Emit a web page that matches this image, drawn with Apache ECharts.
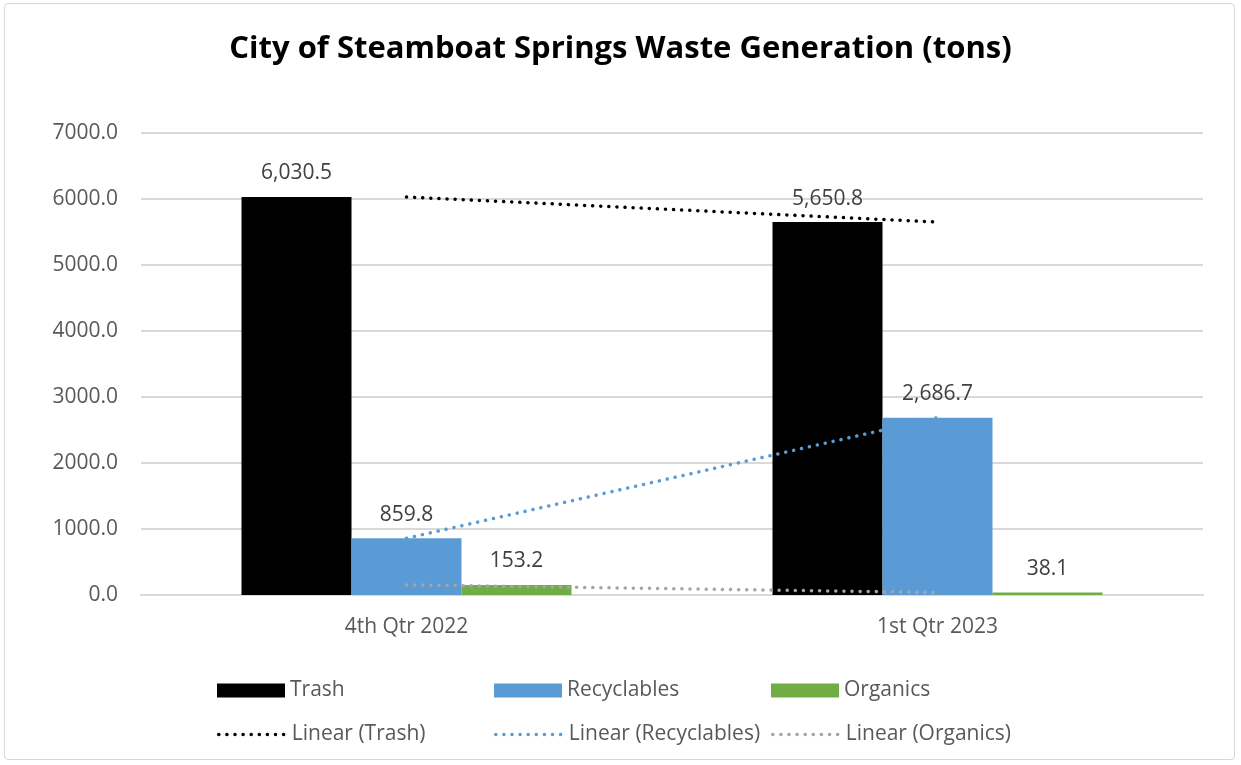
<!DOCTYPE html>
<html>
<head>
<meta charset="utf-8">
<script src="https://cdn.jsdelivr.net/npm/echarts@6/dist/echarts.min.js"></script>
<style>
  html, body { margin: 0; padding: 0; background: #fff; }
  #frame { position: absolute; left: 4px; top: 3px; width: 1231px; height: 757px;
           border: 1px solid #d9d9d9; border-radius: 4px; box-sizing: border-box; }
  #chart { width: 1241px; height: 765px; }
</style>
</head>
<body>
<div id="frame"></div>
<div id="chart"></div>
<script>
// values
const categories = ['4th Qtr 2022', '1st Qtr 2023'];
const trash = [6030.5, 5650.8];
const recyclables = [859.8, 2686.7];
const organics = [153.2, 38.1];
const yTicks = [0, 1000, 2000, 3000, 4000, 5000, 6000, 7000];

const font = '"Open Sans", "Liberation Sans", sans-serif';
const grey = '#595959';
const dots = [0.1, 8];

const chart = echarts.init(document.getElementById('chart'), null, { renderer: 'canvas' });

function fmt(v) {
    return v.toLocaleString('en-US', { minimumFractionDigits: 1, maximumFractionDigits: 1 });
}

function barSeries(name, data, color) {
    return {
        name: name,
        type: 'bar',
        data: data,
        barWidth: 110,
        barGap: '0%',
        itemStyle: { color: color },
        label: {
            show: true,
            position: 'top',
            distance: 13,
            color: '#404040',
            fontSize: 21,
            fontFamily: font,
            formatter: p => fmt(p.value)
        }
    };
}

function trendSeries(name, data, color) {
    return {
        name: name,
        type: 'line',
        data: data,
        symbol: 'none',
        z: 5,
        lineStyle: { color: color, width: 3.5, type: dots, cap: 'round' },
        // keep legend marker invisible so only the dotted line shows
        itemStyle: { color: 'rgba(0,0,0,0)', borderWidth: 0 }
    };
}

// one legend per slot so the columns line up like the original
const legendCols = [217, 494, 771];
const legendRows = [680, 724];
const legendNames = [
    ['Trash', 'Recyclables', 'Organics'],
    ['Linear (Trash)', 'Linear (Recyclables)', 'Linear (Organics)']
];
const legends = [];
legendNames.forEach((row, r) => {
    row.forEach((n, c) => {
        legends.push({
            data: [r === 0 ? { name: n, icon: 'rect' } : n],
            left: legendCols[c],
            top: legendRows[r],
            padding: 0,
            itemWidth: 68,
            itemHeight: 14,
            itemGap: 0,
            selectedMode: false,
            lineStyle: { width: 3.5, type: dots, cap: 'round' },
            textStyle: { color: grey, fontSize: 21, fontFamily: font, padding: [0, 0, 0, 0] }
        });
    });
});

chart.setOption({
    animation: false,
    title: {
        text: 'City of Steamboat Springs Waste Generation (tons)',
        left: 'center',
        top: 29,
        textStyle: { color: '#000', fontSize: 31, fontWeight: 'bold', fontFamily: font }
    },
    legend: legends,
    grid: { left: 141, right: 38, top: 133, bottom: 170 },
    xAxis: {
        type: 'category',
        data: categories,
        axisLine: { lineStyle: { color: '#d9d9d9', width: 2 } },
        axisTick: { show: false },
        axisLabel: { color: grey, fontSize: 21, fontFamily: font, margin: 22 }
    },
    yAxis: {
        type: 'value',
        min: yTicks[0],
        max: yTicks[yTicks.length - 1],
        interval: 1000,
        axisLine: { show: false },
        axisTick: { show: false },
        splitLine: { lineStyle: { color: '#d9d9d9', width: 2 } },
        axisLabel: { color: grey, fontSize: 21, fontFamily: font, margin: 23, formatter: v => v.toFixed(1) }
    },
    series: [
        barSeries('Trash', trash, '#000000'),
        barSeries('Recyclables', recyclables, '#5b9bd5'),
        barSeries('Organics', organics, '#70ad47'),
        trendSeries('Linear (Trash)', trash, '#000000'),
        trendSeries('Linear (Recyclables)', recyclables, '#5b9bd5'),
        trendSeries('Linear (Organics)', organics, '#a5a5a5')
    ]
});
</script>
</body>
</html>
